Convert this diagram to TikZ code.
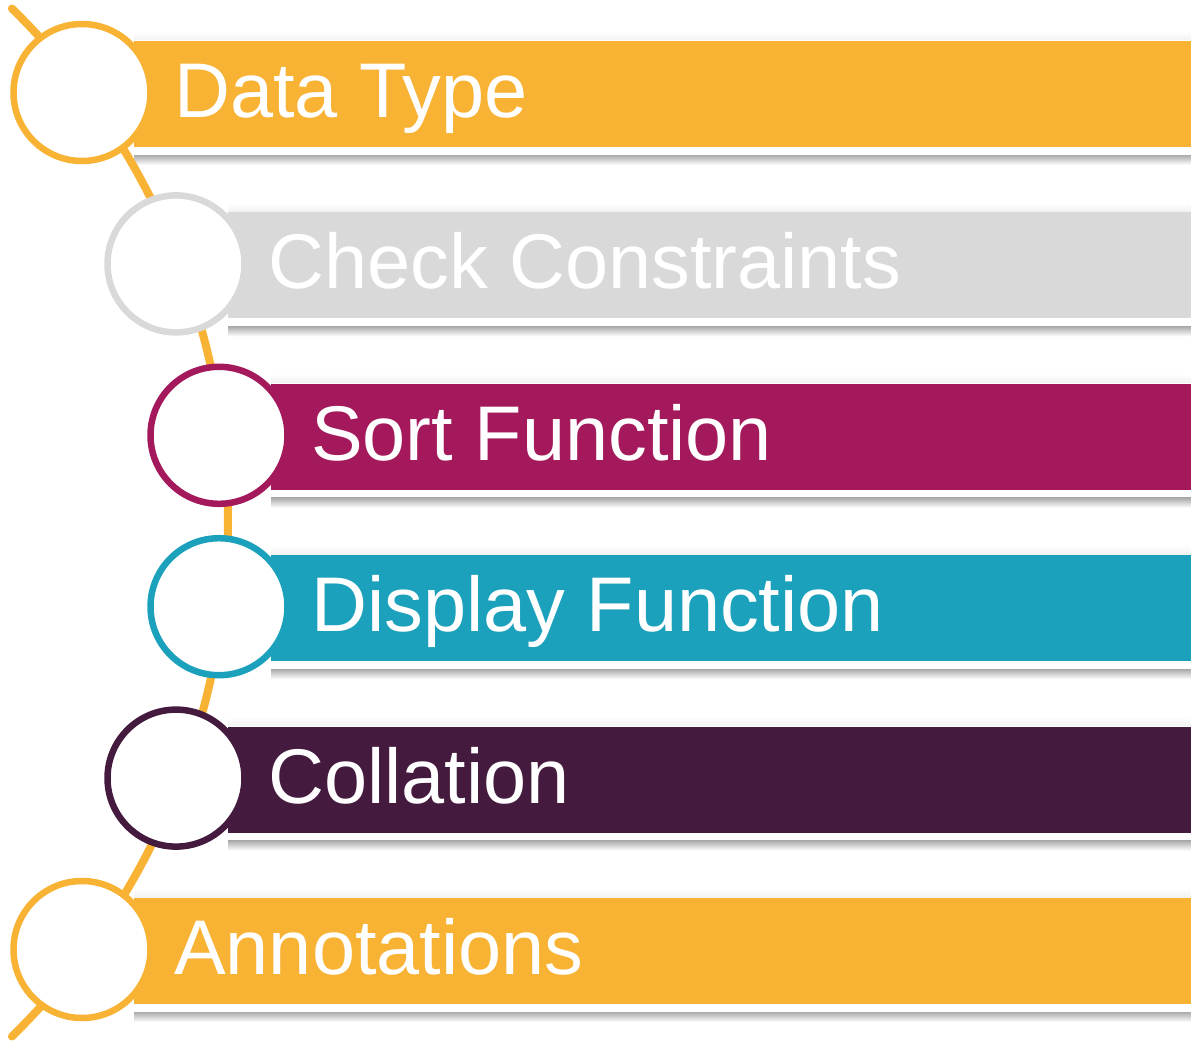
\documentclass[tikz,border=0pt]{standalone}
\usepackage{fontspec}
\setmainfont{Liberation Sans}
\definecolor{cOrange}{RGB}{248,178,52}
\definecolor{cGray}{RGB}{217,217,217}
\definecolor{cMagenta}{RGB}{163,25,91}
\definecolor{cTeal}{RGB}{27,161,187}
\definecolor{cPurple}{RGB}{68,27,62}
\begin{document}
\begin{tikzpicture}[x=1pt,y=-1pt,
  barshadow/.style={top color=black!33,bottom color=white},
  bartop/.style={top color=white,bottom color=black!5},
  arcline/.style={cOrange,line width=8,line cap=round},
  ring/.style={circle,fill=white,line width=6.5,minimum size=137,inner sep=0},
  label/.style={anchor=base west,text=white,inner sep=0,font=\fontsize{77.5}{90}\selectfont}]
\useasboundingbox (0,0) rectangle (1191,1041);
% bars with shadows
\foreach \i/\cx/\col in {0/82/cOrange,1/176/cGray,2/219/cMagenta,3/219/cTeal,4/176/cPurple,5/82/cOrange}{
  \pgfmathsetmacro{\cy}{94+171.4*\i}
  \shade[bartop] (\cx+52,\cy-63) rectangle (1191,\cy-54);
  \shade[barshadow] (\cx+52,\cy+61) rectangle (1191,\cy+71);
  \fill[\col] (\cx+52,\cy-53) rectangle (1191,\cy+53);
}
% connecting arc
\coordinate (arcc) at (-491.4,522.5);
\draw[arcline] (arcc) ++(-45.6:719.4) arc[start angle=-45.6,end angle=45.6,radius=719.4];
% circles and labels
\foreach \i/\cx/\col/\txt in {0/82/cOrange/Data Type,1/176/cGray/Check Constraints,2/219/cMagenta/Sort Function,3/219/cTeal/Display Function,4/176/cPurple/Collation,5/82/cOrange/Annotations}{
  \pgfmathsetmacro{\cy}{94+171.4*\i}
  \node[ring,draw=\col] (c\i) at (\cx,\cy-1.5) {};
  \node[label] (t\i) at (\cx+92,\cy+23.5) {\txt};
}
\end{tikzpicture}
\end{document}
